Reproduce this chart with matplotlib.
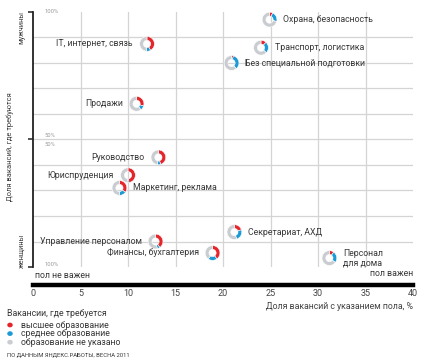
import matplotlib
matplotlib.use("Agg")
import matplotlib.pyplot as plt
from matplotlib.patches import Wedge
from matplotlib.transforms import ScaledTranslation

plt.rcParams['font.family'] = ['Roboto', 'DejaVu Sans']

# ---- data ----
categories = ["IT, интернет, связь", "Охрана, безопасность", "Транспорт, логистика",
              "Без специальной подготовки", "Продажи", "Руководство", "Юриспруденция",
              "Маркетинг, реклама", "Управление персоналом", "Финансы, бухгалтерия",
              "Секретариат, АХД", "Персонал\nдля дома"]
gender_share = [12.0, 24.9, 24.0, 20.9, 10.9, 13.2, 10.0, 9.1, 12.9, 18.9, 21.2, 31.2]   # x, %
men_share = [87.5, 97, 86, 80, 64, 43, 36, 31, 10, 5.5, 13.7, 3.5]                     # y (0 = women, 100 = men)
higher_edu = [42, 7, 12, 4, 30, 45, 48, 35, 40, 40, 20, 10]
secondary_edu = [9, 22, 25, 35, 10, 7, 4, 15, 6, 20, 25, 25]
not_specified = [49, 71, 63, 61, 60, 48, 48, 50, 54, 40, 55, 65]
label_side = ["left", "right", "right", "right", "left", "left", "left",
              "right", "left", "left", "right", "right"]
x_ticks = [0, 5, 10, 15, 20, 25, 30, 35, 40]
y_grid = [10, 20, 30, 40, 50, 60, 70, 80, 90]

edu_colors = ["#e4262c", "#1b9ad6", "#c9ccd0"]
edu_labels = ["высшее образование", "среднее образование", "образование не указано"]

W, H = 423, 362
fig = plt.figure(figsize=(W / 100, H / 100), dpi=100)
fig.patch.set_facecolor("white")


def fx(x):
    return x / W


def fy(y):
    return 1 - y / H


ax = fig.add_axes([fx(33), fy(267), (413 - 33) / W, (267 - 12) / H])
ax.set_xlim(0, 40)
ax.set_ylim(0, 100)

grid_c = "#d4d4d4"
for t in x_ticks[1:-1]:
    ax.axvline(t, color=grid_c, lw=0.9, zorder=0)
for t in y_grid:
    ax.axhline(t, color=grid_c, lw=0.9, zorder=0)

for s in ["top", "right"]:
    ax.spines[s].set_visible(False)
ax.spines["left"].set_linewidth(1.3)
ax.spines["left"].set_color("#222222")
ax.spines["bottom"].set_position(("outward", 13))
ax.spines["bottom"].set_linewidth(3.2)
ax.spines["bottom"].set_color("black")
ax.set_yticks([0, 50, 100])
ax.set_yticklabels([])
ax.tick_params(axis="y", length=3.5, width=1.1, color="#222222")
ax.set_xticks(x_ticks)
ax.set_xticklabels([str(t) for t in x_ticks])
ax.tick_params(axis="x", length=0, pad=3, labelsize=6.5, labelcolor="#444444")
ax.set_xlabel("Доля вакансий с указанием пола, %", fontsize=6.3, color="#444444",
              loc="right", labelpad=3)

# small percentage labels
pc = "#9a9a9a"
ax.text(1.2, 100, "100%", fontsize=4.2, color=pc, va="center", ha="left")
ax.text(1.2, 51.5, "50%", fontsize=4.2, color=pc, va="center", ha="left")
ax.text(1.2, 48.0, "50%", fontsize=4.2, color=pc, va="center", ha="left")
ax.text(1.2, 1.0, "100%", fontsize=4.2, color=pc, va="center", ha="left")

# donuts
r_out = 0.074
ring = 0.038
for i in range(len(categories)):
    trans = fig.dpi_scale_trans + ScaledTranslation(gender_share[i], men_share[i], ax.transData)
    start = 90.0
    vals = [higher_edu[i], secondary_edu[i], not_specified[i]]
    tot = float(sum(vals))
    for v, c in zip(vals, edu_colors):
        ang = 360.0 * v / tot
        w = Wedge((0, 0), r_out, start - ang, start, width=ring, transform=trans,
                  facecolor=c, edgecolor="white", lw=0.4, clip_on=False, zorder=3)
        ax.add_artist(w)
        start -= ang
    off = -10 if label_side[i] == "left" else 10
    ax.annotate(categories[i], xy=(gender_share[i], men_share[i]), xytext=(off, 0),
                textcoords="offset points", ha="right" if off < 0 else "left",
                va="center", fontsize=6.3, color="#383838", linespacing=1.15, zorder=4)

# side labels
tc = "#383838"
fig.text(fx(22), fy(27), "мужчины", rotation=90, fontsize=5.3, color=tc, ha="center", va="center")
fig.text(fx(22), fy(251), "женщины", rotation=90, fontsize=5.3, color=tc, ha="center", va="center")
fig.text(fx(10), fy(147), "Доля вакансий, где требуются", rotation=90, fontsize=5.4,
         color=tc, ha="center", va="center")
fig.text(fx(35), fy(275), "пол не важен", fontsize=6.3, color=tc, ha="left", va="center")
fig.text(fx(413), fy(274), "пол важен", fontsize=6.3, color=tc, ha="right", va="center")

# legend
fig.text(fx(7), fy(314), "Вакансии, где требуется", fontsize=6.3, color=tc, ha="left", va="center")
for k, (lab, c) in enumerate(zip(edu_labels, edu_colors)):
    yy = 325 + k * 8.6
    fig.text(fx(21), fy(yy), lab, fontsize=6.3, color=tc, ha="left", va="center")
    fig.add_artist(plt.Circle((fx(10), fy(yy)), 0.0065, transform=fig.transFigure,
                              facecolor=c, edgecolor="none"))
fig.text(fx(7), fy(355), "ПО ДАННЫМ ЯНДЕКС.РАБОТЫ, ВЕСНА 2011", fontsize=4.2, color=tc,
         ha="left", va="center")

fig.savefig("out.png", dpi=100, facecolor="white")
